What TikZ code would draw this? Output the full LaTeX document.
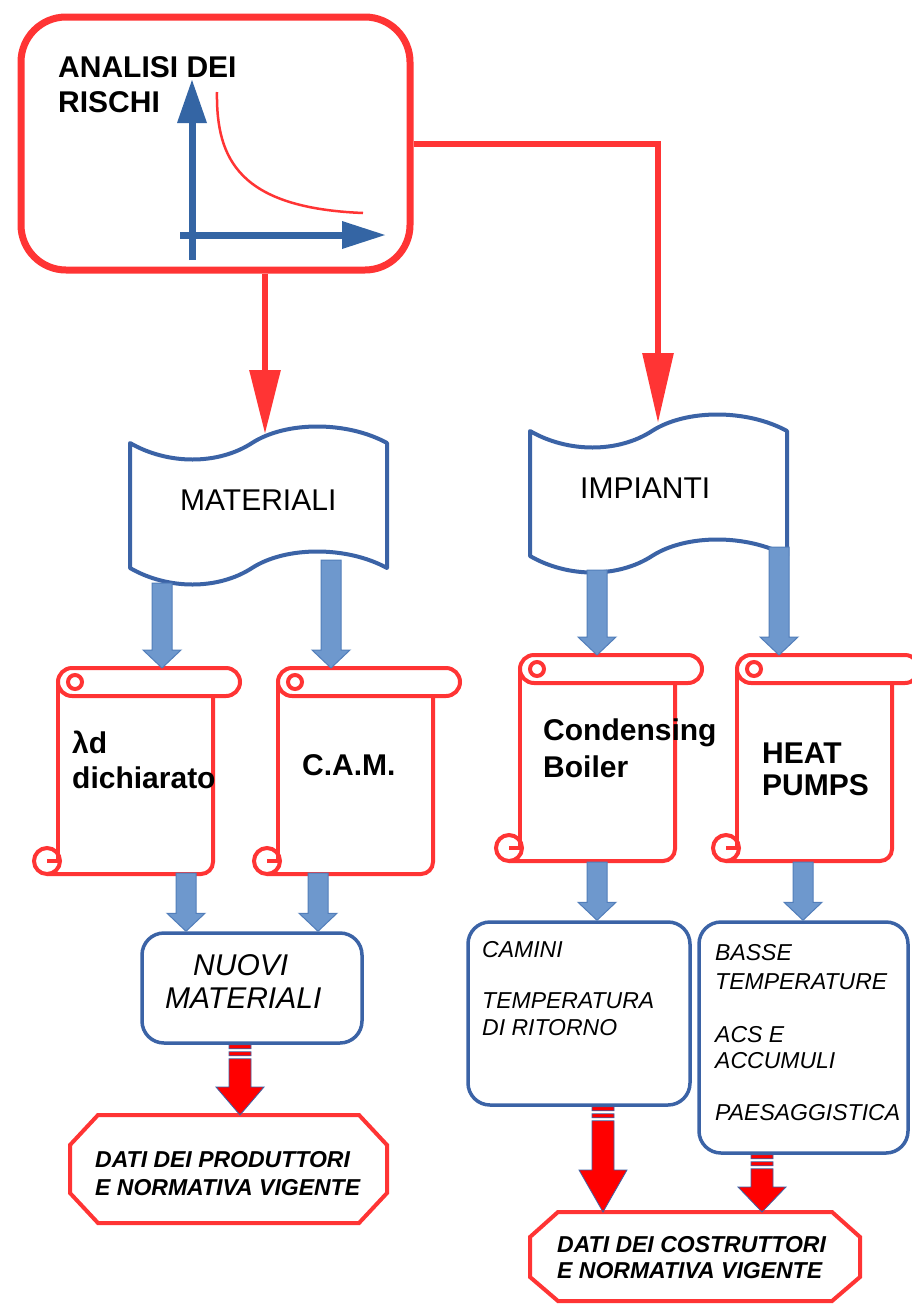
\documentclass[tikz,border=0pt]{standalone}
\usepackage{fontspec}
\setmainfont{Liberation Sans}
\usetikzlibrary{calc,arrows.meta}

\definecolor{riskred}{RGB}{255,52,52}
\definecolor{fillred}{RGB}{255,0,0}
\definecolor{inkblue}{RGB}{59,99,166}
\definecolor{axisblue}{RGB}{52,101,164}
\definecolor{flowblue}{RGB}{110,152,205}
\definecolor{flowedge}{RGB}{82,126,186}

% wide blue block arrow pointing down, from #1 to #2
\newcommand\flowarrow[2]{%
  \path[draw=flowedge, fill=flowblue, line width=1pt, line join=miter]
    let \p1=(#1), \p2=(#2) in
    (\x1-10pt,\y1) -- (\x1+10pt,\y1) -- (\x1+10pt,\y2+18pt) -- (\x1+19pt,\y2+18pt)
    -- (\x1,\y2) -- (\x1-19pt,\y2+18pt) -- (\x1-10pt,\y2+18pt) -- cycle;}

% red striped block arrow pointing down, from #1 to #2, head length #3
\newcommand\stripedarrow[3]{%
  \path[draw=inkblue, fill=fillred, line width=0.8pt, line join=miter]
    let \p1=(#1), \p2=(#2) in
    (\x1-11pt,\y1) rectangle (\x1+11pt,\y1-4pt)
    (\x1-11pt,\y1-7pt) rectangle (\x1+11pt,\y1-11pt)
    (\x1-11pt,\y1-14pt) -- (\x1+11pt,\y1-14pt) -- (\x1+11pt,\y2+#3) -- (\x1+24pt,\y2+#3)
    -- (\x1,\y2) -- (\x1-24pt,\y2+#3) -- (\x1-11pt,\y2+#3) -- cycle;}

\tikzset{
  big/.style={font=\fontsize{30}{36}\selectfont},
  bigbold/.style={font=\bfseries\fontsize{30}{36}\selectfont},
  bigital/.style={font=\itshape\fontsize{30}{36}\selectfont},
  smallital/.style={font=\itshape\fontsize{23}{28}\selectfont},
  tagtext/.style={font=\bfseries\itshape\fontsize{23}{28}\selectfont},
  txt/.style={anchor=base west, inner sep=0pt},
  riskbox/.style={draw=riskred, line width=7pt, rounded corners=45pt, inner sep=0pt},
  bluebox/.style={draw=inkblue, line width=3.5pt, rounded corners=22pt, inner sep=0pt},
  redlink/.style={draw=riskred, line width=6pt, line join=miter},
  scrolline/.style={draw=riskred, line width=4pt},
  flagline/.style={draw=inkblue, line width=4pt, line join=round},
  octline/.style={draw=riskred, line width=4pt, line join=miter},
  flag/.pic={
    \path[flagline, fill=white] (0,0) .. controls (38,22) and (88,22) .. (122,0)
      .. controls (156,-22) and (217,-22) .. (257,0) -- (257,125)
      .. controls (217,103) and (156,103) .. (122,125)
      .. controls (88,147) and (38,147) .. (0,125) -- cycle;
  },
  scroll/.pic={
    \draw[scrolline, rounded corners=14pt] (0,0) rectangle (182,28);
    \draw[scrolline] (17,14) circle[radius=7pt];
    \draw[scrolline] (0,14) -- (0,193);
    \draw[scrolline, rounded corners=12pt] (155,28) -- (155,206) -- (-11,206);
    \draw[scrolline] (-11,193) circle[radius=13pt];
    \draw[scrolline] (-11,193) -- (0,193);
  }
}

\begin{document}
\begin{tikzpicture}[x=1pt,y=-1pt]
\useasboundingbox (0,0) rectangle (911,1304);
\fill[white] (0,0) rectangle (911,1304);

% risk analysis box with its little chart
\node[riskbox, minimum width=389pt, minimum height=253pt] (risk) at (215.5,143.5) {};
\node[txt, bigbold] (riskA) at (58,77) {ANALISI DEI};
\node[txt, bigbold] (riskB) at (58,112) {RISCHI};
\draw[axisblue, line width=7pt] (192,260) -- (192,120);
\fill[axisblue] (177,123) -- (207,123) -- (192,80) -- cycle;
\draw[axisblue, line width=7pt] (180,235) -- (345,235);
\fill[axisblue] (342,221) -- (342,249) -- (385,235) -- cycle;
\draw[riskred, line width=2.5pt] (217,92) .. controls (216,160) and (240,208) .. (363,213);

% the two wavy headers
\pic at (130,443) {flag};
\node[txt, big] (mat) at (180,510) {MATERIALI};
\pic at (530,431) {flag};
\node[txt, big] (imp) at (580,498) {IMPIANTI};

% scrolls
\pic at (58,668) {scroll};
\node[txt, bigbold] (lamA) at (72,753) {λd};
\node[txt, bigbold] (lamB) at (72,788) {dichiarato};
\pic at (278,668) {scroll};
\node[txt, bigbold] (cam) at (302,775) {C.A.M.};
\pic at (520,655) {scroll};
\node[txt, bigbold] (conA) at (543,740) {Condensing};
\node[txt, bigbold] (conB) at (543,777) {Boiler};
\pic at (737,655) {scroll};
\node[txt, bigbold] (heatA) at (762,763) {HEAT};
\node[txt, bigbold] (heatB) at (762,795) {PUMPS};

% rounded result boxes
\node[bluebox, minimum width=220pt, minimum height=110pt] (nuovi) at (252,988) {};
\node[txt, bigital] (nuoA) at (193,975) {NUOVI};
\node[txt, bigital] (nuoB) at (165,1008) {MATERIALI};

\node[bluebox, minimum width=222pt, minimum height=183pt] (camini) at (579,1013.5) {};
\node[txt, smallital] (cmA) at (482,957) {CAMINI};
\node[txt, smallital] (cmB) at (482,1008) {TEMPERATURA};
\node[txt, smallital] (cmC) at (482,1035) {DI RITORNO};

\node[bluebox, minimum width=209pt, minimum height=231pt] (basse) at (803.5,1037.5) {};
\node[txt, smallital] (bsA) at (715,960) {BASSE};
\node[txt, smallital] (bsB) at (715,989) {TEMPERATURE};
\node[txt, smallital] (bsC) at (715,1042) {ACS E};
\node[txt, smallital] (bsD) at (715,1068) {ACCUMULI};
\node[txt, smallital] (bsE) at (715,1120) {PAESAGGISTICA};

% octagonal data tags
\draw[octline] (98,1115) -- (359,1115) -- (387,1145) -- (387,1193) -- (359,1223)
  -- (98,1223) -- (70,1193) -- (70,1145) -- cycle;
\node[txt, tagtext] (prodA) at (95,1167) {DATI DEI PRODUTTORI};
\node[txt, tagtext] (prodB) at (95,1195) {E NORMATIVA VIGENTE};
\draw[octline] (558,1212) -- (832,1212) -- (860,1237) -- (860,1277) -- (832,1301)
  -- (558,1301) -- (530,1277) -- (530,1237) -- cycle;
\node[txt, tagtext] (costA) at (557,1252) {DATI DEI COSTRUTTORI};
\node[txt, tagtext] (costB) at (557,1278) {E NORMATIVA VIGENTE};

% connector end points
\coordinate (matIn) at (265,434);
\coordinate (impIn) at (658,423);
\coordinate (matOutA) at (162,583);  \coordinate (lamIn) at (162,668);
\coordinate (matOutB) at (331,560);  \coordinate (camIn) at (331,668);
\coordinate (impOutA) at (597,570);  \coordinate (conIn) at (597,655);
\coordinate (impOutB) at (779,547);  \coordinate (heatIn) at (779,655);
\coordinate (lamOut) at (186,873);
\coordinate (camOut) at (318,873);
\coordinate (conOut) at (597,862);
\coordinate (heatOut) at (803,862);
\coordinate (prodIn) at (240,1115);
\coordinate (costInA) at (603,1212);
\coordinate (costInB) at (762,1212);

% red links from the risk analysis
\draw[redlink, -{Triangle[length=64pt,width=30pt]}] (risk.south -| matIn) -- (matIn);
\draw[redlink, -{Triangle[length=70pt,width=30pt]}] (risk.east) -| (impIn);

% blue block arrows
\flowarrow{matOutA}{lamIn}
\flowarrow{matOutB}{camIn}
\flowarrow{impOutA}{conIn}
\flowarrow{impOutB}{heatIn}
\flowarrow{lamOut}{nuovi.north -| lamOut}
\flowarrow{camOut}{nuovi.north -| camOut}
\flowarrow{conOut}{camini.north -| conOut}
\flowarrow{heatOut}{basse.north -| heatOut}

% red striped arrows into the data tags
\stripedarrow{nuovi.south -| prodIn}{prodIn}{28pt}
\stripedarrow{camini.south -| costInA}{costInA}{42pt}
\stripedarrow{basse.south -| costInB}{costInB}{25pt}
\end{tikzpicture}
\end{document}
